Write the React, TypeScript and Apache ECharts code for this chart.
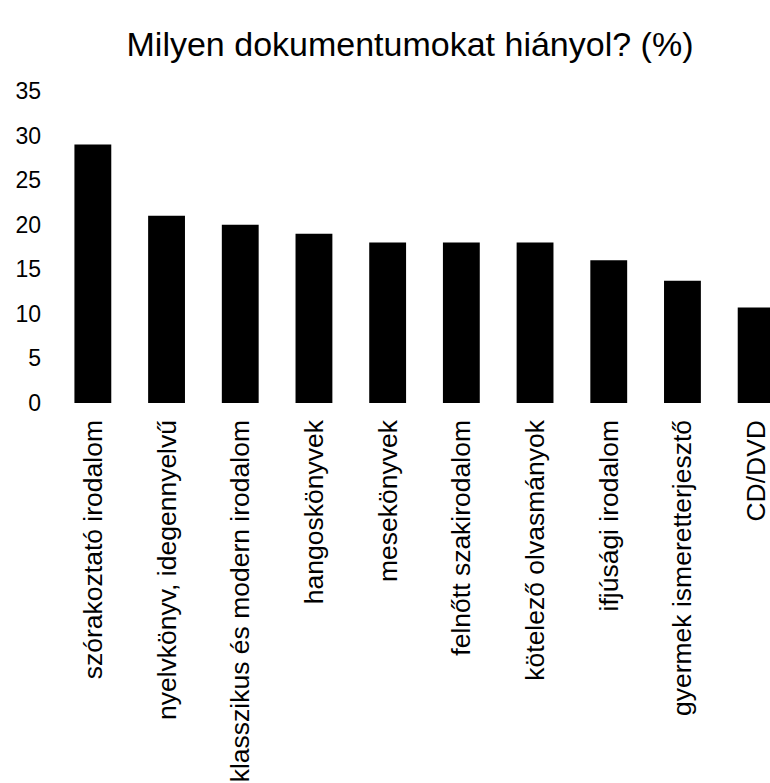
import React, { useEffect, useRef } from "react";
import * as echarts from "echarts";

const title = "Milyen dokumentumokat hiányol? (%)";
const categories = [
  "szórakoztató irodalom",
  "nyelvkönyv, idegennyelvű",
  "klasszikus és modern irodalom",
  "hangoskönyvek",
  "mesekönyvek",
  "felnőtt szakirodalom",
  "kötelező olvasmányok",
  "ifjúsági irodalom",
  "gyermek ismeretterjesztő",
  "CD/DVD",
];
const values = [29, 21, 20, 19, 18, 18, 18, 16, 13.7, 10.7];
const yTicks = { min: 0, max: 35, interval: 5 };

export default function App() {
  const ref = useRef<HTMLDivElement>(null);
  useEffect(() => {
    if (!ref.current) return;
    const chart = echarts.init(ref.current, null, { renderer: "svg" });
    const font = "'Liberation Sans', Arial, sans-serif";
    chart.setOption({
      animation: false,
      backgroundColor: "#ffffff",
      title: {
        text: title,
        left: 405,
        top: 22,
        textAlign: "center",
        textStyle: { fontFamily: font, fontSize: 34, fontWeight: "normal", color: "#000" },
      },
      grid: {
        left: 56,
        right: 0,
        top: 91,
        bottom: 783 - 403,
        containLabel: false,
        outerBoundsMode: "none",
      },
      xAxis: {
        type: "category",
        data: categories,
        axisLine: { show: false },
        axisTick: { show: false },
        axisLabel: {
          rotate: 90,
          interval: 0,
          margin: 17,
          color: "#000",
          fontFamily: font,
          fontSize: 26.5,
        },
      },
      yAxis: {
        type: "value",
        min: yTicks.min,
        max: yTicks.max,
        interval: yTicks.interval,
        axisLine: { show: false },
        axisTick: { show: false },
        splitLine: { show: false },
        axisLabel: { color: "#000", fontFamily: font, fontSize: 23, margin: 15 },
      },
      series: [
        {
          type: "bar",
          data: values,
          barWidth: "50%",
          itemStyle: { color: "#000" },
        },
      ],
    });
    return () => chart.dispose();
  }, []);
  return (
    <div style={{ position: "fixed", left: 0, top: 0, width: 770, height: 783, overflow: "hidden", background: "#fff" }}>
      <div ref={ref} style={{ width: 793, height: 783 }} />
    </div>
  );
}
